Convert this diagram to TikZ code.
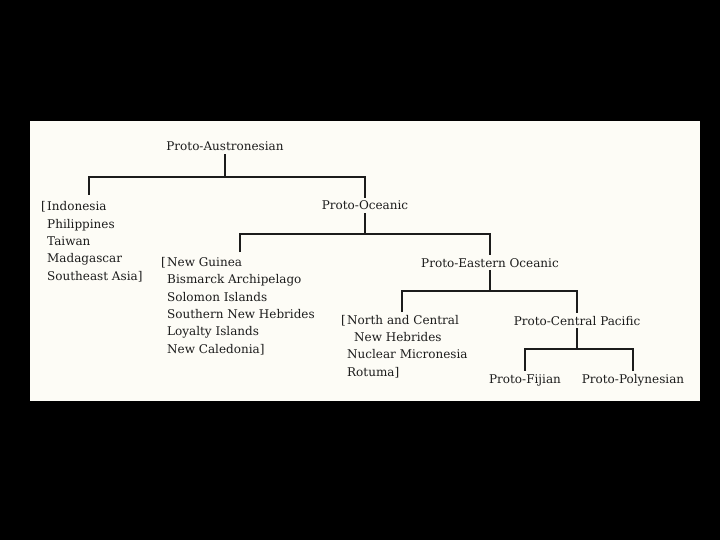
\documentclass[tikz,border=0pt]{standalone}
\usepackage{fontspec}
\setmainfont{DejaVu Serif}
\usetikzlibrary{calc}

\definecolor{paper}{HTML}{FDFCF6}
\definecolor{ink}{HTML}{1C1C1C}

\tikzset{
	lang/.style={text=ink, inner xsep=0pt, inner ysep=3pt, anchor=base,
		font=\fontsize{12}{17.3}\selectfont},
	group/.style={lang, anchor=base west, align=left},
	branch/.style={draw=ink, line width=1.7pt}
}

\begin{document}
\begin{tikzpicture}[x=1pt,y=-1pt]
	
	% --- Frame ---
	\fill[black] (0,0) rectangle (720,540);
	\fill[paper] (30,121) rectangle (700,401);
	
	% --- Proto-languages ---
	\node[lang] (pa)  at (225,151) {Proto-Austronesian};
	\node[lang] (po)  at (365,210) {Proto-Oceanic};
	\node[lang] (peo) at (490,267) {Proto-Eastern Oceanic};
	\node[lang] (pcp) at (577,325) {Proto-Central Pacific};
	\node[lang] (pf)  at (525,383) {Proto-Fijian};
	\node[lang] (pp)  at (633,383) {Proto-Polynesian};
	
	% --- Regions (bracketed lists), placed by their last line ---
	\node[group] (wma) at (47,280) {\llap{[\hspace{1.5pt}}Indonesia\\Philippines\\Taiwan\\Madagascar\\Southeast Asia]};
	\node[group] (wo)  at (167,353) {\llap{[\hspace{1.5pt}}New Guinea\\Bismarck Archipelago\\Solomon Islands\\Southern New Hebrides\\Loyalty Islands\\New Caledonia]};
	\node[group] (nco) at (347,376) {\llap{[\hspace{1.5pt}}North and Central\\\hspace{7pt}New Hebrides\\Nuclear Micronesia\\Rotuma]};
	
	% free ends above the lists
	\coordinate (l1) at (89,195);
	\coordinate (l2) at (240,252);
	\coordinate (l3) at (402,312);
	
	% --- Branches ---
	\draw[branch] (pa.south)  -- (pa.south |- 0,177) coordinate (j1);
	\draw[branch] (l1) |- (j1) -| (po.north);
	
	\draw[branch] (po.south)  -- (po.south |- 0,234) coordinate (j2);
	\draw[branch] (l2) |- (j2) -| (peo.north);
	
	\draw[branch] (peo.south) -- (peo.south |- 0,291) coordinate (j3);
	\draw[branch] (l3) |- (j3) -| (pcp.north);
	
	\draw[branch] (pcp.south) -- (pcp.south |- 0,349) coordinate (j4);
	\draw[branch] (pf.north) |- (j4) -| (pp.north);
	
\end{tikzpicture}
\end{document}
